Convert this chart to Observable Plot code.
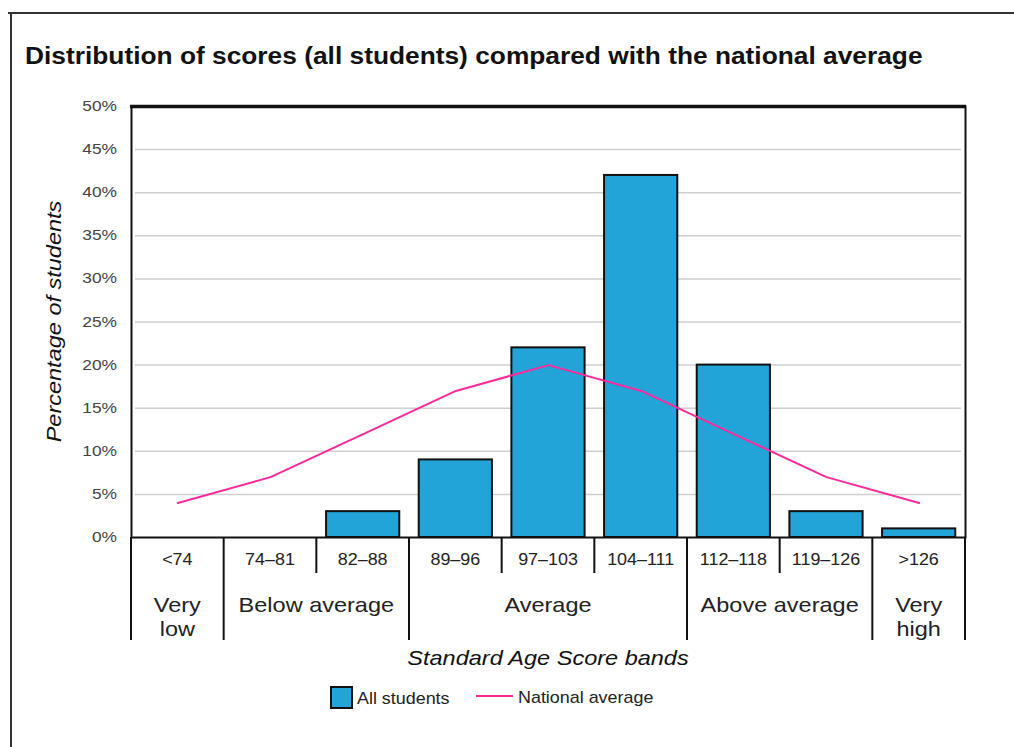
<!DOCTYPE html>
<html>
<head>
<meta charset="utf-8">
<script src="https://cdn.jsdelivr.net/npm/d3@7"></script>
<script src="https://cdn.jsdelivr.net/npm/@observablehq/plot@0.6"></script>
<style>
  body { margin: 0; background: #fff; }
  #chart svg { display: block; }
</style>
</head>
<body>
<div id="chart"></div>
<script>
// ---- data ----
const title = "Distribution of scores (all students) compared with the national average";
const bands = ["<74", "74–81", "82–88", "89–96", "97–103", "104–111", "112–118", "119–126", ">126"];
const students = [0, 0, 3, 9, 22, 42, 20, 3, 1];
const national = [4, 7, 12, 17, 20, 17, 12, 7, 4];
const groupLabels = [["Very", "low"], ["Below average"], ["Average"], ["Above average"], ["Very", "high"]];
const groupSpans = [1, 2, 3, 2, 1];
const yTicks = [0, 5, 10, 15, 20, 25, 30, 35, 40, 45, 50];
const yLabel = "Percentage of students";
const xLabel = "Standard Age Score bands";
const legendLabels = ["All students", "National average"];

// ---- style ----
const BAR = "#22a4d9";
const PINK = "#ff2a9a";
const INK = "#111";
const FONT = "'Liberation Sans', Arial, Helvetica, sans-serif";
const S = 1.12; // horizontal stretch of lettering

const data = bands.map((b, i) => ({band: b, students: students[i], national: national[i]}));

const plot = Plot.plot({
  width: 1014,
  height: 747,
  marginLeft: 131,
  marginRight: 49,
  marginTop: 106,
  marginBottom: 210,
  style: {background: "transparent", fontFamily: FONT},
  x: {domain: bands, paddingInner: 0.21, paddingOuter: 0.105, round: false, axis: null},
  y: {domain: [0, 50], axis: null},
  marks: [
    Plot.ruleY(yTicks.filter(v => v > 0 && v < 50), {stroke: "#cfcfcf", strokeWidth: 1.5, insetLeft: 4, insetRight: 4}),
    Plot.barY(data.filter(d => d.students > 0), {x: "band", y: "students", fill: BAR, stroke: INK, strokeWidth: 2}),
    Plot.lineY(data, {x: "band", y: "national", stroke: PINK, strokeWidth: 2}),
    Plot.frame({stroke: INK, strokeWidth: 2}),
    Plot.ruleY([50], {stroke: INK, strokeWidth: 3.5, insetLeft: -1, insetRight: -1})
  ]
});
document.getElementById("chart").appendChild(plot);

// ---- overlays drawn from the scales ----
const svg = d3.select(plot);
const xs = plot.scale("x");
const ys = plot.scale("y");
const step = xs.apply(bands[1]) - xs.apply(bands[0]);
const bw = xs.bandwidth ?? step * (1 - 0.21);
const center = i => xs.apply(bands[i]) + bw / 2;
const edge = i => i < bands.length ? center(i) - step / 2 : center(bands.length - 1) + step / 2;
const yBase = ys.apply(0);

function label(g, x, y, str, o = {}) {
  return g.append("text")
    .attr("transform", `translate(${x},${y}) ${o.rotate ? `rotate(${o.rotate})` : ""} scale(${S},1)`)
    .attr("text-anchor", o.anchor || "middle")
    .attr("font-family", FONT)
    .attr("font-size", o.size || 16)
    .attr("font-weight", o.weight || "normal")
    .attr("font-style", o.style || "normal")
    .attr("fill", o.fill || "#222")
    .text(str);
}

const g = svg.append("g");

// page frame
g.append("line").attr("x1", 8).attr("x2", 1014).attr("y1", 13).attr("y2", 13).attr("stroke", "#333").attr("stroke-width", 2);
g.append("line").attr("x1", 11).attr("x2", 11).attr("y1", 12).attr("y2", 747).attr("stroke", "#333").attr("stroke-width", 2);

// title
label(g, 25, 64, title, {anchor: "start", size: 23.5, weight: "bold", fill: INK});

// y tick labels
yTicks.forEach(v => label(g, 117, ys.apply(v) + 5, v + "%", {anchor: "end", size: 15.5, fill: "#444"}));

// y axis title
label(g, 61, (ys.apply(0) + ys.apply(50)) / 2, yLabel, {rotate: -90, size: 21, style: "italic", fill: INK});

// band labels
bands.forEach((b, i) => label(g, center(i), yBase + 28, b, {size: 16, fill: "#222"}));

// dividers
const groupEdges = [0];
groupSpans.forEach(s => groupEdges.push(groupEdges[groupEdges.length - 1] + s));
for (let i = 0; i <= bands.length; i++) {
  const long = groupEdges.includes(i);
  g.append("line")
    .attr("x1", edge(i)).attr("x2", edge(i))
    .attr("y1", yBase).attr("y2", yBase + (long ? 103 : 36))
    .attr("stroke", INK).attr("stroke-width", 2);
}

// group labels
groupLabels.forEach((lines, k) => {
  const cx = (edge(groupEdges[k]) + edge(groupEdges[k + 1])) / 2;
  lines.forEach((t, j) => label(g, cx, yBase + 75 + j * 24, t, {size: 21, fill: "#222"}));
});

// x axis title
label(g, (edge(0) + edge(bands.length)) / 2, 665, xLabel, {size: 21, style: "italic", fill: INK});

// legend
g.append("rect").attr("x", 331).attr("y", 687).attr("width", 21).attr("height", 21)
  .attr("fill", BAR).attr("stroke", INK).attr("stroke-width", 2);
label(g, 357, 704, legendLabels[0], {anchor: "start", size: 16, fill: "#222"});
g.append("line").attr("x1", 476).attr("x2", 513).attr("y1", 696).attr("y2", 696)
  .attr("stroke", PINK).attr("stroke-width", 2);
label(g, 518, 703, legendLabels[1], {anchor: "start", size: 16, fill: "#222"});
</script>
</body>
</html>
